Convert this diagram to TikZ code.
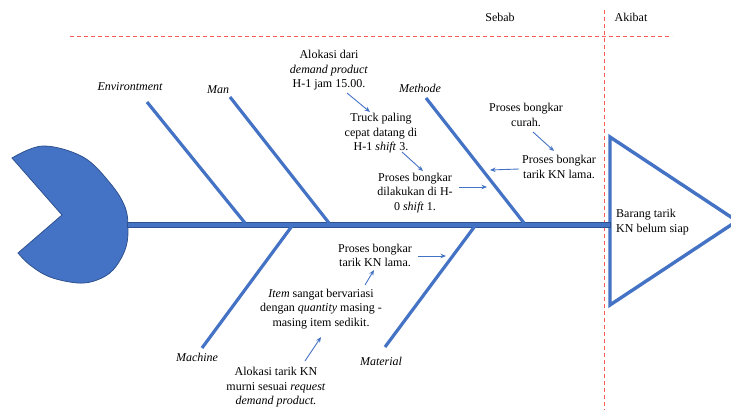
\documentclass[tikz,border=0pt]{standalone}
\usepackage{fontspec}
\setmainfont{Liberation Serif}
\usetikzlibrary{arrows.meta}
\definecolor{bone}{HTML}{4472C4}
\definecolor{boneedge}{HTML}{2F528F}
\definecolor{reddash}{HTML}{FF5B5B}
\begin{document}
\begin{tikzpicture}[x=1pt,y=-1pt,
  txt/.style={font=\fontsize{12}{14.5}\selectfont, align=center, inner sep=0pt, text=black},
  lbl/.style={txt, font=\fontsize{12}{14.5}\selectfont\itshape},
  bonestyle/.style={draw=bone, line width=3.2pt},
  note/.style={draw=bone, line width=0.9pt, -{Stealth[length=5.5pt,width=4.5pt]}},
  divider/.style={draw=reddash, line width=0.9pt, dash pattern=on 4pt off 3pt}]
\useasboundingbox (0,0) rectangle (731,410);

% dividers
\coordinate (hA) at (70,36);
\coordinate (hB) at (672,36);
\coordinate (vA) at (604,10);
\coordinate (vB) at (604,410);
\path[divider] (hA) -- (hB);
\path[divider] (vA) -- (vB);
\node[txt] (sebab) at (500,17) {Sebab};
\node[txt] (akibat) at (631,17) {Akibat};

% head (effect) triangle
\coordinate (tA) at (610,137);
\coordinate (tB) at (737,221);
\coordinate (tC) at (610,305);
\draw[bone, line width=3.4pt, fill=white, line join=miter] (tA) -- (tB) -- (tC) -- cycle;
\node[txt, align=left, anchor=west] (effect) at (616,222) {Barang tarik\\KN belum siap};

% tail (pacman)
\filldraw[fill=bone, draw=boneedge, line width=0.8pt]
  plot[smooth, tension=0.6] coordinates {(12,158) (43,146) (83,157) (110,183) (125,207) (128,230) (125,250) (113,270) (97,280) (78,283) (50,277) (30,265) (18,253)}
  -- (62,215) -- cycle;

% spine
\coordinate (sL) at (127,222);
\coordinate (sR) at (610,227);
\filldraw[fill=bone, draw=boneedge, line width=0.8pt] (sL) rectangle (sR);

% bones
\coordinate (envT) at (147,102);
\coordinate (envB) at (245,223);
\coordinate (manT) at (230,97);
\coordinate (manB) at (329,223);
\coordinate (metT) at (426,98);
\coordinate (metB) at (524,223);
\coordinate (macT) at (292,226);
\coordinate (macB) at (202,348);
\coordinate (matT) at (475,226);
\coordinate (matB) at (385,347);
\draw[bonestyle] (envT) -- (envB);
\draw[bonestyle] (manT) -- (manB);
\draw[bonestyle] (metT) -- (metB);
\draw[bonestyle] (macT) -- (macB);
\draw[bonestyle] (matT) -- (matB);

% category labels
\node[lbl] (env) at (130,87) {Environtment};
\node[lbl] (man) at (218,90) {Man};
\node[lbl] (met) at (420,88) {Methode};
\node[lbl] (mac) at (197,357) {Machine};
\node[lbl] (mat) at (381,361) {Material};

% cause texts
\node[txt] (c1) at (329,70.5) {Alokasi dari\\\textit{demand product}\\H-1 jam 15.00.};
\node[txt] (c2) at (381,133.5) {Truck paling\\cepat datang di\\H-1 \textit{shift} 3.};
\node[txt] (c3) at (415,193) {Proses bongkar\\dilakukan di H-\\0 \textit{shift} 1.};
\node[txt] (c4) at (526,115) {Proses bongkar\\curah.};
\node[txt] (c5) at (559,167) {Proses bongkar\\tarik KN lama.};
\node[txt] (c6) at (375,255.5) {Proses bongkar\\tarik KN lama.};
\node[txt] (c7) at (321,309) {\textit{Item} sangat bervariasi\\dengan \textit{quantity} masing -\\masing item sedikit.};
\node[txt] (c8) at (276,387.5) {Alokasi tarik KN\\murni sesuai \textit{request}\\\textit{demand product.}};

% note arrows
\coordinate (a1s) at (347,93);  \coordinate (a1e) at (370,112);
\coordinate (a2s) at (402,152); \coordinate (a2e) at (423,171);
\coordinate (a3s) at (459,187); \coordinate (a3e) at (487,187);
\coordinate (a4s) at (519,169); \coordinate (a4e) at (490,170);
\coordinate (a5s) at (533,132); \coordinate (a5e) at (554,151);
\coordinate (a6s) at (418,256); \coordinate (a6e) at (446,256);
\coordinate (a7s) at (365,285); \coordinate (a7e) at (374,270);
\coordinate (a8s) at (305,361); \coordinate (a8e) at (321,337);
\draw[note] (a1s) -- (a1e);
\draw[note] (a2s) -- (a2e);
\draw[note] (a3s) -- (a3e);
\draw[note] (a4s) -- (a4e);
\draw[note] (a5s) -- (a5e);
\draw[note] (a6s) -- (a6e);
\draw[note] (a7s) -- (a7e);
\draw[note] (a8s) -- (a8e);
\end{tikzpicture}
\end{document}
